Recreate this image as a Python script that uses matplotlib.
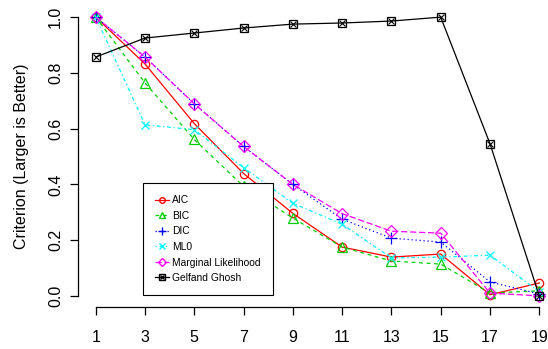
import matplotlib
matplotlib.use("Agg")
import matplotlib.pyplot as plt
from matplotlib.lines import Line2D

plt.rcParams['font.family'] = ['Liberation Sans', 'DejaVu Sans']

x = [1, 3, 5, 7, 9, 11, 13, 15, 17, 19]
aic = [1.0, 0.832, 0.618, 0.439, 0.296, 0.175, 0.139, 0.150, 0.004, 0.046]
bic = [1.0, 0.764, 0.561, 0.393, 0.279, 0.175, 0.125, 0.114, 0.010, 0.018]
dic = [1.0, 0.857, 0.689, 0.536, 0.400, 0.275, 0.207, 0.193, 0.050, 0.007]
ml0 = [1.0, 0.614, 0.596, 0.460, 0.332, 0.257, 0.136, 0.139, 0.146, 0.014]
marg = [1.0, 0.857, 0.689, 0.536, 0.400, 0.295, 0.232, 0.225, 0.010, 0.000]
gg = [0.857, 0.925, 0.943, 0.961, 0.975, 0.979, 0.986, 1.0, 0.546, 0.0]

xticks = [1, 3, 5, 7, 9, 11, 13, 15, 17, 19]
yticks = [0.0, 0.2, 0.4, 0.6, 0.8, 1.0]

W, H = 548, 349
fig = plt.figure(figsize=(W / 100, H / 100), dpi=100)
# plot region in pixels: left 78, right 557, top 6, bottom 307
ax = fig.add_axes([78 / W, (H - 307) / H, (557 - 78) / W, (307 - 6) / H])
ax.set_xlim(0.28, 19.72)
ax.set_ylim(-0.04, 1.04)

lw = 0.9
ax.plot(x, aic, color="#FF0000", lw=lw, ls="-", marker="o", ms=6, mfc="none", mew=0.9)
ax.plot(x, bic, color="#00CD00", lw=lw, dashes=(3, 3), marker="^", ms=7, mfc="none", mew=0.9)
ax.plot(x, dic, color="#0000FF", lw=lw, dashes=(1, 2.2), marker="+", ms=8, mew=0.9)
ax.plot(x, ml0, color="#00FFFF", lw=lw, dashes=(1, 2.2, 3, 2.2), marker="x", ms=6, mew=0.9)
ax.plot(x, marg, color="#FF00FF", lw=lw, dashes=(5, 2.2), marker="D", ms=6, mfc="none", mew=0.9)
ax.plot(x, gg, color="black", lw=lw, ls="-", marker="s", ms=6, mfc="none", mew=0.9)
ax.plot(x, gg, color="black", lw=0, marker="x", ms=4.5, mew=0.8)

for s in ["top", "right"]:
    ax.spines[s].set_visible(False)
ax.spines["left"].set_bounds(0, 1)
ax.spines["bottom"].set_bounds(1, 19)
ax.spines["left"].set_linewidth(0.9)
ax.spines["bottom"].set_linewidth(0.9)
ax.set_xticks(xticks)
ax.set_xticklabels([str(v) for v in xticks])
ax.set_yticks(yticks)
ax.set_yticklabels(["%.1f" % v for v in yticks], rotation=90, va="center")
ax.tick_params(axis="both", length=5.8, width=0.9, labelsize=11.5)
ax.tick_params(axis="x", pad=11)
ax.tick_params(axis="y", pad=5)
ax.set_ylabel("Criterion (Larger is Better)", fontsize=11.5, labelpad=14)

ms_l = 4
handles = [
    Line2D([], [], color="#FF0000", lw=lw, marker="o", ms=ms_l, mfc="none"),
    Line2D([], [], color="#00CD00", lw=lw, dashes=(3, 3), marker="^", ms=ms_l + 1, mfc="none"),
    Line2D([], [], color="#0000FF", lw=lw, dashes=(1, 2.2), marker="+", ms=ms_l + 2),
    Line2D([], [], color="#00FFFF", lw=lw, dashes=(1, 2.2, 3, 2.2), marker="x", ms=ms_l),
    Line2D([], [], color="#FF00FF", lw=lw, dashes=(5, 2.2), marker="D", ms=ms_l, mfc="none"),
    (Line2D([], [], color="black", lw=lw, marker="s", ms=ms_l, mfc="none"),
     Line2D([], [], color="black", lw=0, marker="x", ms=3)),
]
labels = ["AIC", "BIC", "DIC", "ML0", "Marginal Likelihood", "Gelfand Ghosh"]
leg = fig.legend(handles, labels, loc="upper left", bbox_to_anchor=(143 / W, 1 - 183 / H),
                 prop={"size": 7.4}, fancybox=False, framealpha=1, edgecolor="black",
                 borderpad=1.2, handlelength=1.3, handletextpad=0.3, labelspacing=0.54,
                 borderaxespad=0)
leg.get_frame().set_linewidth(0.8)

fig.savefig("out.png", dpi=100)
